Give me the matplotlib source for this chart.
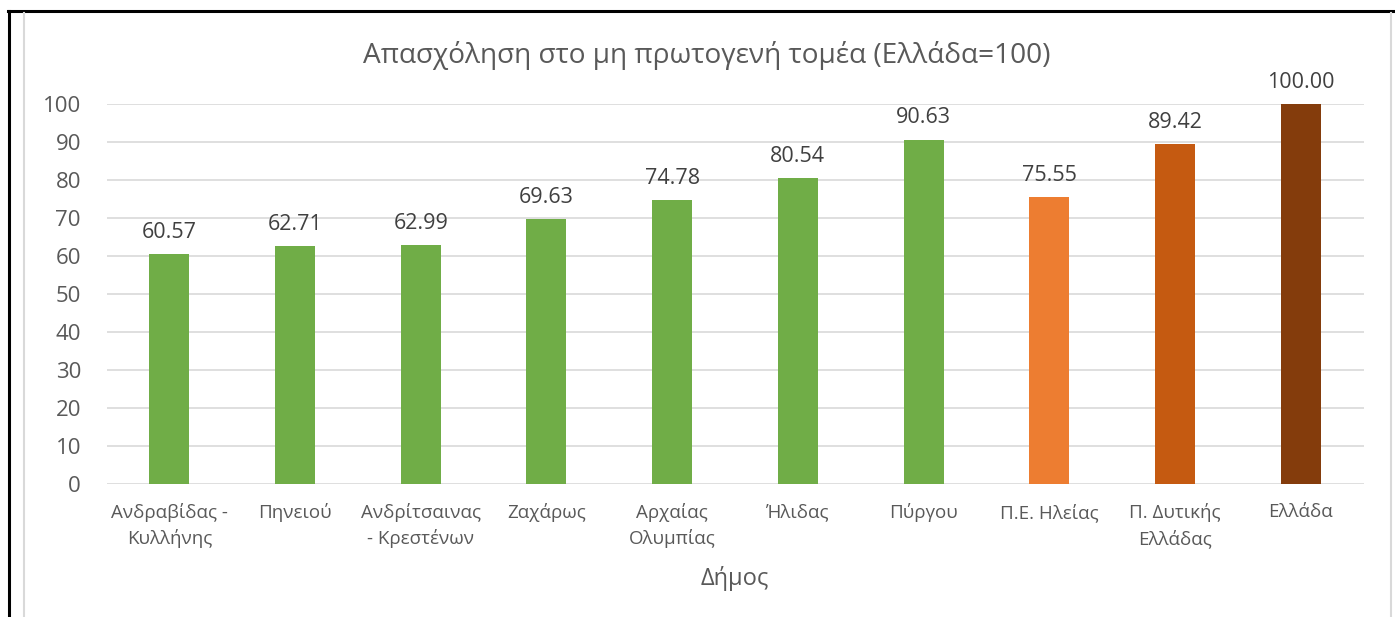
import matplotlib
matplotlib.use("Agg")
import matplotlib.pyplot as plt
from matplotlib.lines import Line2D

plt.rcParams['font.family'] = ['Open Sans', 'DejaVu Sans']

categories = ["Ανδραβίδας -\nΚυλλήνης", "Πηνειού", "Ανδρίτσαινας\n- Κρεστένων", "Ζαχάρως",
              "Αρχαίας\nΟλυμπίας", "Ήλιδας", "Πύργου", "Π.Ε. Ηλείας",
              "Π. Δυτικής\nΕλλάδας", "Ελλάδα"]
values = [60.57, 62.71, 62.99, 69.63, 74.78, 80.54, 90.63, 75.55, 89.42, 100.00]
colors = ["#70AD47"] * 7 + ["#ED7D31", "#C55A11", "#843C0C"]
yticks = [0, 10, 20, 30, 40, 50, 60, 70, 80, 90, 100]
title = "Απασχόληση στο μη πρωτογενή τομέα (Ελλάδα=100)"
xlabel = "Δήμος"

W, H = 1395, 617
fig = plt.figure(figsize=(W / 100, H / 100), dpi=100)

# frame lines
fig.add_artist(Line2D([9 / W, 9 / W], [0, 1 - 11 / H], color="black", lw=2.2, transform=fig.transFigure))
fig.add_artist(Line2D([8 / W, 1], [1 - 11 / H, 1 - 11 / H], color="black", lw=2.2, transform=fig.transFigure))
fig.add_artist(Line2D([24 / W, 24 / W], [0, 1 - 13 / H], color="#D9D9D9", lw=1.5, transform=fig.transFigure))
fig.add_artist(Line2D([1391 / W, 1391 / W], [0, 1 - 13 / H], color="#D9D9D9", lw=1.5, transform=fig.transFigure))

left, right = 106.5 / W, 1363.5 / W
bottom, top = (H - 484) / H, (H - 104) / H
ax = fig.add_axes([left, bottom, right - left, top - bottom])

x = list(range(len(categories)))
bars = ax.bar(x, values, width=0.318, color=colors, zorder=3)
ax.set_xlim(-0.5, len(categories) - 0.5)
ax.set_ylim(0, 100)
ax.set_yticks(yticks)
ax.yaxis.grid(True, color="#D9D9D9", lw=1.2, zorder=0)
ax.set_axisbelow(True)
for s in ax.spines.values():
    s.set_visible(False)
ax.tick_params(axis="both", length=0)
ax.tick_params(axis="y", labelsize=16, labelcolor="#595959", pad=18.4)
ax.set_xticks(x)
ax.set_xticklabels(categories, fontsize=13.5, color="#595959", linespacing=1.45)
ax.tick_params(axis="x", pad=14)
ax.set_xlabel(xlabel, fontsize=17, color="#595959", labelpad=13)

for xi, v in zip(x, values):
    ax.annotate(f"{v:.2f}", (xi, v), xytext=(0, 8), textcoords="offset points",
                ha="center", va="bottom", fontsize=15.5, color="#404040")

fig.text(707 / W, 1 - 55 / H, title, ha="center", va="center", fontsize=20.2, color="#595959")

fig.savefig("out.png", dpi=100)
